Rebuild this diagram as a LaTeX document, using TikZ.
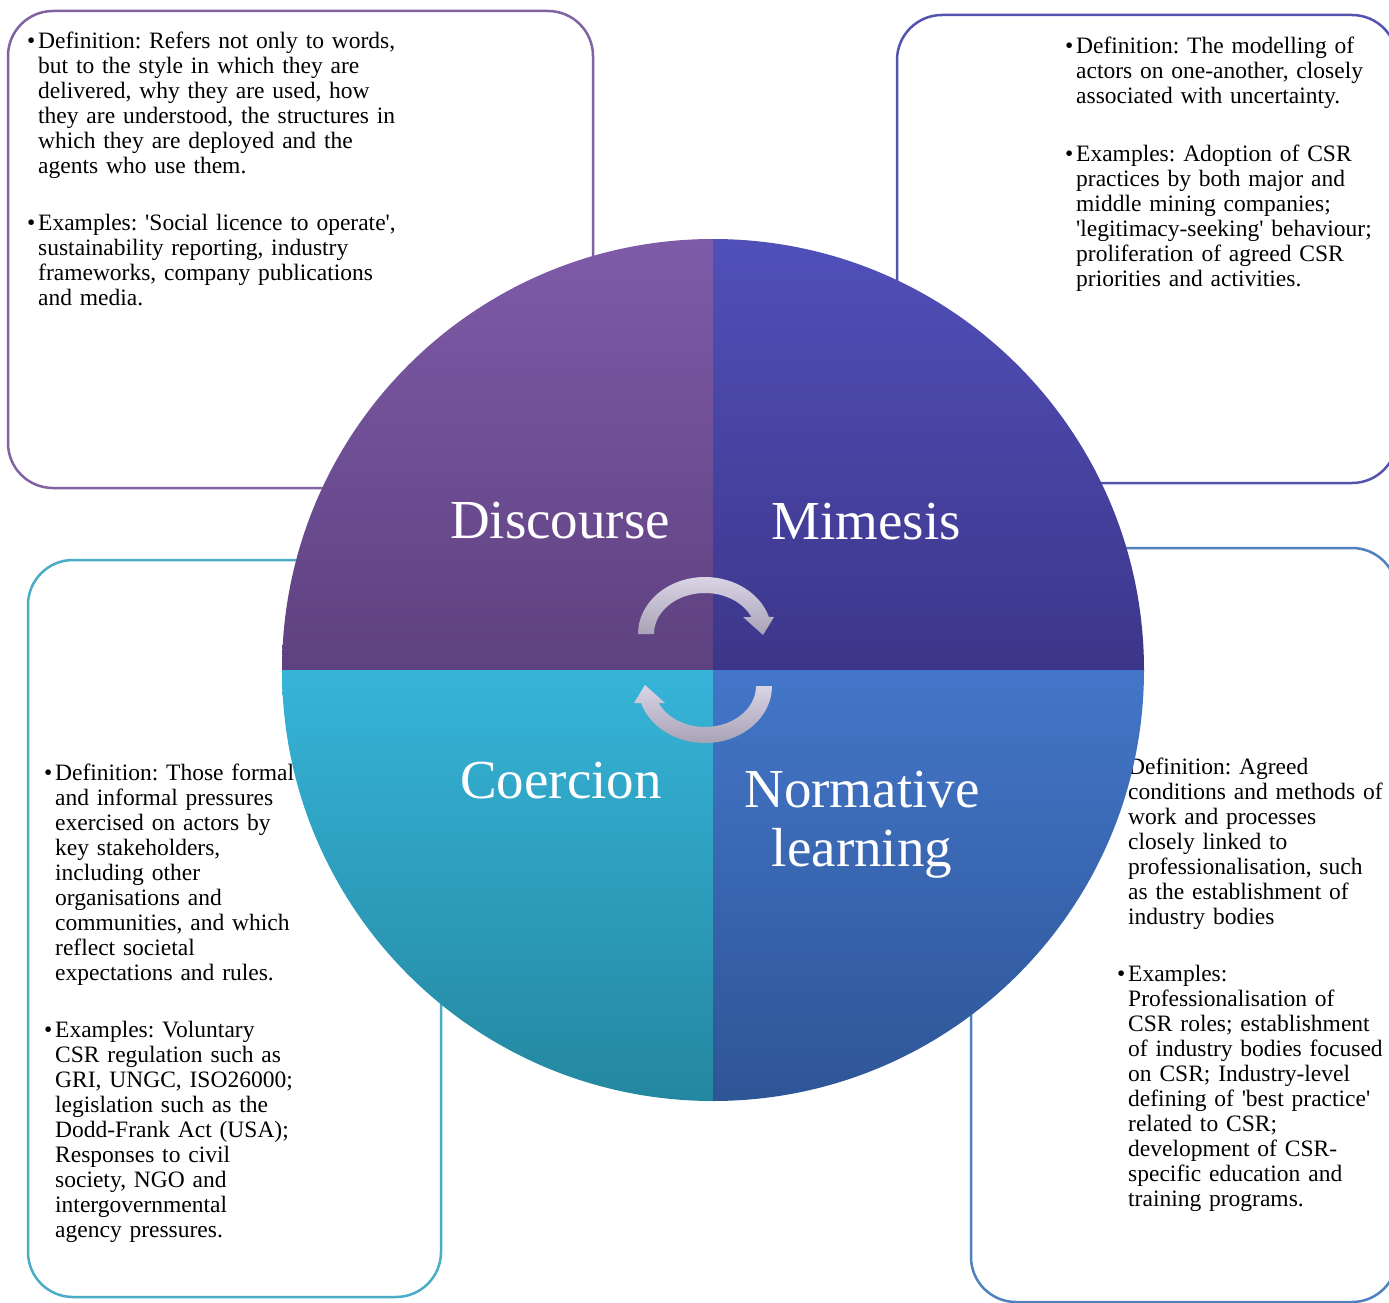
\documentclass[tikz,border=0pt]{standalone}
\usepackage{fontspec}
\setmainfont{Liberation Serif}
\usetikzlibrary{positioning}
\definecolor{discline}{RGB}{128,100,162}
\definecolor{mimline}{RGB}{84,84,176}
\definecolor{coerline}{RGB}{75,172,198}
\definecolor{normline}{RGB}{79,129,189}
\definecolor{disctop}{RGB}{126,91,168}
\definecolor{discbot}{RGB}{94,65,128}
\definecolor{mimtop}{RGB}{81,80,185}
\definecolor{mimbot}{RGB}{60,54,138}
\definecolor{coertop}{RGB}{54,180,216}
\definecolor{coerbot}{RGB}{36,135,160}
\definecolor{normtop}{RGB}{67,118,201}
\definecolor{normbot}{RGB}{46,85,150}
\definecolor{arrtop}{RGB}{218,213,229}
\definecolor{arrbot}{RGB}{167,162,181}
\newcommand{\bul}[1]{{\let\\\newline\frenchspacing\hangindent=11pt\hangafter=1%
  \noindent\makebox[11pt][l]{\textbullet}#1\par}}
\newcommand{\q}{\textquotesingle}

\begin{document}
\begin{tikzpicture}[x=1pt,y=1pt,
    descbox/.style={line width=2.5pt, fill=white, rounded corners=45pt},
    desctext/.style={anchor=north west, inner sep=0pt, text width=420pt, align=left,
      font=\fontsize{23.5}{25}\selectfont},
    quadlabel/.style={text=white, inner sep=0pt, font=\fontsize{55}{59}\selectfont}]
    \useasboundingbox (0,0) rectangle (1389,-1303);
    \clip (0,0) rectangle (1389,-1303);

    % boxes
    \draw[descbox, draw=discline] (8,-11) rectangle (593,-488);
    \draw[descbox, draw=mimline] (897,-15) rectangle (1397,-483);
    \draw[descbox, draw=coerline] (28,-560) rectangle (441,-1297);
    \draw[descbox, draw=normline] (971,-548) rectangle (1397,-1302);

    % Discourse text
    \node[desctext] (d1) at (27,-32) {\bul{Definition: Refers not only to words,\\
      but to the style in which they are\\ delivered, why they are used, how\\
      they are understood, the structures in\\ which they are deployed and the\\
      agents who use them.}};
    \node[desctext] (d2) at (27,-214) {\bul{Examples: \q Social licence to operate\q,\\
      sustainability reporting, industry\\ frameworks, company publications\\ and media.}};

    % Mimesis text
    \node[desctext] (m1) at (1065,-37) {\bul{Definition: The modelling of\\
      actors on one-another, closely\\ associated with uncertainty.}};
    \node[desctext] (m2) at (1065,-145) {\bul{Examples: Adoption of CSR\\
      practices by both major and\\ middle mining companies;\\
      \q legitimacy-seeking\q\ behaviour;\\ proliferation of agreed CSR\\
      priorities and activities.}};

    % Coercion text
    \node[desctext] (c1) at (44,-764) {\bul{Definition: Those formal\\
      and informal pressures\\ exercised on actors by\\ key stakeholders,\\
      including other\\ organisations and\\ communities, and which\\
      reflect societal\\ expectations and rules.}};
    \node[desctext] (c2) at (44,-1021) {\bul{Examples: Voluntary\\
      CSR regulation such as\\ GRI, UNGC, ISO26000;\\ legislation such as the\\
      Dodd-Frank Act (USA);\\ Responses to civil\\ society, NGO and\\
      intergovernmental\\ agency pressures.}};

    % Normative learning text
    \node[desctext] (n1) at (1117,-758) {\bul{Definition: Agreed\\
      conditions and methods of\\ work and processes\\ closely linked to\\
      professionalisation, such\\ as the establishment of\\ industry bodies}};
    \node[desctext] (n2) at (1117,-965) {\bul{Examples:\\
      Professionalisation of\\ CSR roles; establishment\\ of industry bodies focused\\
      on CSR; Industry-level\\ defining of \q best practice\q\\ related to CSR;\\
      development of CSR-\\ specific education and\\ training programs.}};

    % quadrants
    \coordinate (o) at (713,-670);
    \shade[top color=disctop, bottom color=discbot] (o) -- ++(90:431pt)
      arc[start angle=90, end angle=180, radius=431pt] -- cycle;
    \shade[top color=mimtop, bottom color=mimbot] (o) -- ++(0:431pt)
      arc[start angle=0, end angle=90, radius=431pt] -- cycle;
    \shade[top color=coertop, bottom color=coerbot] (o) -- ++(180:431pt)
      arc[start angle=180, end angle=270, radius=431pt] -- cycle;
    \shade[top color=normtop, bottom color=normbot] (o) -- ++(270:431pt)
      arc[start angle=270, end angle=360, radius=431pt] -- cycle;

    \node[quadlabel, anchor=base] (disc) at (560,-538) {Discourse};
    \node[quadlabel, anchor=base] (mim) at (866,-539) {Mimesis};
    \node[quadlabel, anchor=base] (coer) at (561,-798) {Coercion};
    \node[quadlabel, align=center] (norm) at (862,-824.5) {Normative\\ learning};

    % cycle arrows
    \shade[top color=arrtop, bottom color=arrbot] (638,-634)
      arc[start angle=180, end angle=17.4, x radius=67pt, y radius=57pt]
      -- (774,-617) -- (763,-635) -- (743,-617) -- (751.4,-617)
      arc[start angle=24.5, end angle=180, x radius=51pt, y radius=41pt] -- cycle;
    \shade[top color=arrtop, bottom color=arrbot] (772,-686)
      arc[start angle=0, end angle=-162.6, x radius=67pt, y radius=57pt]
      -- (634,-703) -- (645,-685) -- (665,-703) -- (658.6,-703)
      arc[start angle=-155.5, end angle=0, x radius=51pt, y radius=41pt] -- cycle;
\end{tikzpicture}
\end{document}
